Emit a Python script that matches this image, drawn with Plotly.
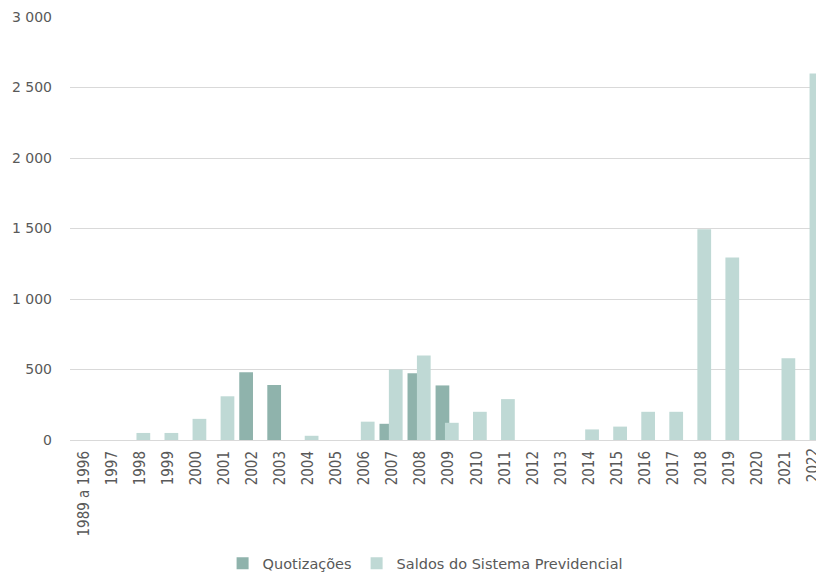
import plotly.graph_objects as go

# Categories (years)
categories = ["1989 a 1996"] + [str(y) for y in range(1997, 2023)]

# Quotizações (milhões de euros)
quotizacoes = [0, 0, 0, 0, 0, 0, 480, 390, 0, 0, 0, 115, 474, 387,
               0, 0, 0, 0, 0, 0, 0, 0, 0, 0, 0, 0, 0]

# Saldos do Sistema Previdencial (milhões de euros)
saldos = [0, 0, 50, 50, 150, 310, 0, 0, 30, 0, 130, 500, 600, 122,
          200, 290, 0, 0, 75, 95, 200, 200, 1495, 1295, 0, 580, 2600]

y_tickvals = [0, 500, 1000, 1500, 2000, 2500, 3000]
y_ticktext = ["0", "500", "1 000", "1 500", "2 000", "2 500", "3 000"]

DARK = "#8FB3AC"
LIGHT = "#BFD9D5"
TEXT = "#595959"
GRID = "#D9D9D9"
Y_FONT = dict(family="DejaVu Sans", size=14, color=TEXT)
X_FONT = dict(family="DejaVu Sans Condensed", size=15, color=TEXT)
LEG_FONT = dict(family="DejaVu Sans", size=14.5, color=TEXT)

x_idx = list(range(len(categories)))

# Overlapping pair of bars per category: the second series sits on top
fig = go.Figure()
fig.add_trace(go.Bar(
    x=x_idx, y=quotizacoes, name="Quotizações",
    marker=dict(color=DARK, line=dict(width=0)),
    width=0.49, offset=-0.465, hoverinfo="skip",
))
fig.add_trace(go.Bar(
    x=x_idx, y=saldos, name="Saldos do Sistema Previdencial",
    marker=dict(color=LIGHT, line=dict(width=0)),
    width=0.49, offset=-0.13, hoverinfo="skip",
))

# The last category sits on the clipped right edge; its label is placed
# as an annotation so it is drawn even though it runs off the figure.
fig.add_annotation(
    x=x_idx[-1], y=0, xref="x", yref="y",
    text=categories[-1], textangle=-90, showarrow=False,
    xanchor="center", yanchor="top", yshift=-6,
    font=X_FONT,
)

fig.update_layout(
    width=816, height=572,
    margin=dict(l=70, r=0, t=17, b=132, autoexpand=False),
    barmode="overlay",
    plot_bgcolor="white", paper_bgcolor="white",
    font=dict(family="DejaVu Sans", size=14, color=TEXT),
    showlegend=True,
    legend=dict(
        orientation="h", x=0.476, xanchor="center",
        y=-0.254, yanchor="top",
        font=LEG_FONT, itemwidth=30, traceorder="normal",
    ),
    xaxis=dict(
        tickmode="array", tickvals=x_idx[:-1], ticktext=categories[:-1],
        tickangle=-90, range=[-0.5, 26.1], automargin=False,
        showgrid=False, zeroline=False,
        showline=True, linecolor=GRID, linewidth=1,
        ticks="", ticklabelstandoff=4,
        tickfont=X_FONT,
    ),
    yaxis=dict(
        range=[0, 3000], tickmode="array", automargin=False,
        tickvals=y_tickvals, ticktext=y_ticktext,
        showgrid=True, gridcolor=GRID, gridwidth=1,
        zeroline=False, showline=False,
        ticks="", ticklabelstandoff=17,
        tickfont=Y_FONT,
    ),
)

fig.write_html("out.html")
